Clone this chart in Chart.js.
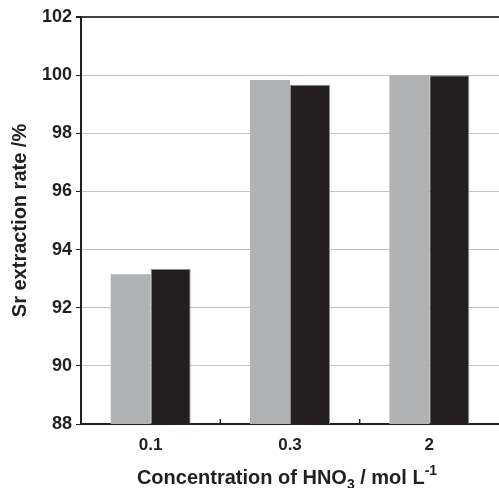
<!DOCTYPE html>
<html>
<head>
<meta charset="utf-8">
<script src="https://cdn.jsdelivr.net/npm/chart.js@4/dist/chart.umd.min.js"></script>
<style>
  body { margin: 0; background: #fff; }
</style>
</head>
<body>
<canvas id="myChart" width="499" height="488"></canvas>
<script>
// data
const categories = ['0.1', '0.3', '2'];
const seriesGray = [93.15, 99.83, 100];
const seriesBlack = [93.33, 99.67, 100];
const yTicks = [88, 90, 92, 94, 96, 98, 100, 102];

const FONT = '"Liberation Sans", Arial, sans-serif';
const INK = '#231f20';

// x title with subscript and superscript, drawn as real canvas text
const xTitlePlugin = {
    id: 'xTitle',
    afterDraw(chart) {
        const ctx = chart.ctx;
        const area = chart.chartArea;
        const parts = [
            {t: 'Concentration of HNO', size: 20, dy: 0},
            {t: '3', size: 14, dy: 5},
            {t: ' / mol L', size: 20, dy: 0},
            {t: '-1', size: 14, dy: -9}
        ];
        ctx.save();
        ctx.fillStyle = INK;
        ctx.textBaseline = 'alphabetic';
        let total = 0;
        parts.forEach(p => {
            ctx.font = 'bold ' + p.size + 'px ' + FONT;
            p.w = ctx.measureText(p.t).width;
            total += p.w;
        });
        let x = (area.left + area.right) / 2 - total / 2 - 3;
        const base = 484;
        parts.forEach(p => {
            ctx.font = 'bold ' + p.size + 'px ' + FONT;
            ctx.fillText(p.t, x, base + p.dy);
            x += p.w;
        });
        ctx.restore();
    }
};

// small inward ticks between categories
const framePlugin = {
    id: 'frame',
    afterDatasetsDraw(chart) {
        const ctx = chart.ctx;
        const area = chart.chartArea;
        const xs = chart.scales.x;
        ctx.save();
        ctx.strokeStyle = INK;
        ctx.lineWidth = 1.5;
        for (let i = 0; i < categories.length - 1; i++) {
            const px = (xs.getPixelForValue(i) + xs.getPixelForValue(i + 1)) / 2;
            ctx.beginPath();
            ctx.moveTo(px, area.bottom);
            ctx.lineTo(px, area.bottom - 5);
            ctx.stroke();
        }
        ctx.restore();
    }
};

const data = {
    labels: categories,
    datasets: [{
        label: 'A',
        data: seriesGray,
        backgroundColor: '#b1b2b4',
        borderWidth: 0
    }, {
        label: 'B',
        data: seriesBlack,
        backgroundColor: INK,
        borderColor: '#8c8c8c',
        borderWidth: 1,
        borderSkipped: 'bottom'
    }]
};

const config = {
    type: 'bar',
    data,
    options: {
        responsive: false,
        maintainAspectRatio: false,
        animation: false,
        layout: { padding: { top: 17, right: 0, left: 0, bottom: 0 } },
        datasets: {
            bar: { categoryPercentage: 0.574, barPercentage: 1 }
        },
        plugins: {
            legend: { display: false },
            tooltip: { enabled: false }
        },
        scales: {
            x: {
                afterFit(scale) { scale.height = 64; },
                grid: { display: false, offset: true },
                border: { display: true, color: INK, width: 2 },
                ticks: {
                    color: INK,
                    padding: 3,
                    font: { family: FONT, size: 17, weight: 'bold' }
                }
            },
            y: {
                min: 88,
                max: 102,
                afterFit(scale) { scale.width = 81; },
                afterBuildTicks(scale) { scale.ticks = yTicks.map(v => ({value: v})); },
                grid: {
                    color: ctx => ctx.tick && ctx.tick.value === 102 ? '#444444' : '#c3c3c3',
                    lineWidth: ctx => ctx.tick && ctx.tick.value === 102 ? 2 : 1,
                    tickLength: 5,
                    tickColor: INK
                },
                border: { display: true, color: INK, width: 2 },
                ticks: {
                    color: INK,
                    padding: 4,
                    font: { family: FONT, size: 18, weight: 'bold' }
                },
                title: {
                    display: true,
                    text: 'Sr extraction rate /%',
                    color: INK,
                    padding: { top: 8, bottom: 0 },
                    font: { family: FONT, size: 20, weight: 'bold' }
                }
            }
        }
    },
    plugins: [xTitlePlugin, framePlugin]
};

const myChart = new Chart(
    document.getElementById('myChart'),
    config
);
</script>
</body>
</html>
